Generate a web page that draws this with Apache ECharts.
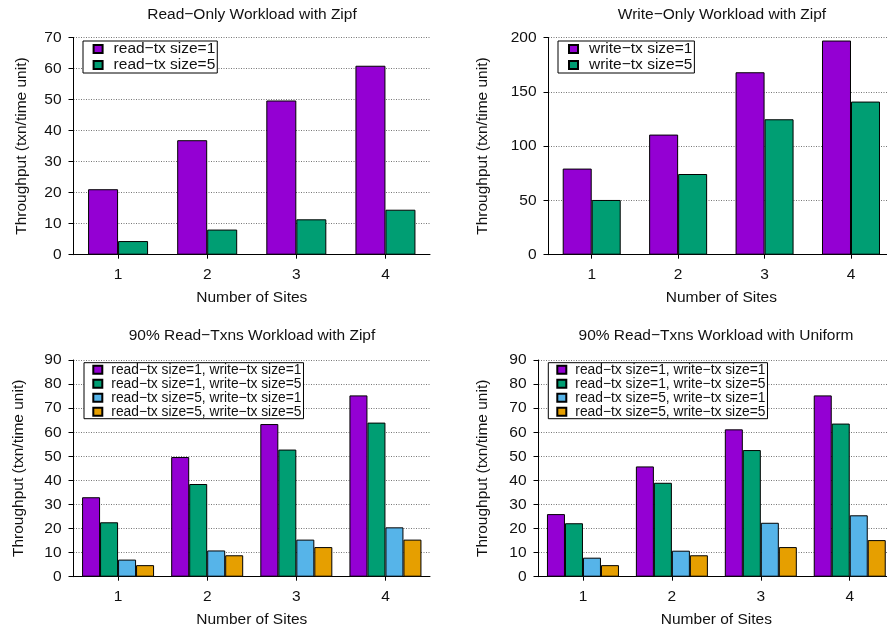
<!DOCTYPE html>
<html>
<head>
<meta charset="utf-8">
<script src="https://cdn.jsdelivr.net/npm/echarts@6/dist/echarts.min.js"></script>
<style>html,body{margin:0;padding:0;background:#fff}#c{width:887px;height:633px}</style>
</head>
<body>
<div id="c"></div>
<script>
// ---- data ----
const categories = ['1', '2', '3', '4'];
const titles = ['Read\u2212Only Workload with Zipf', 'Write\u2212Only Workload with Zipf', '90% Read\u2212Txns Workload with Zipf', '90% Read\u2212Txns Workload with Uniform'];
const xName = 'Number of Sites';
const yName = 'Throughput (txn/time unit)';

const p1Names = ['read\u2212tx size=1', 'read\u2212tx size=5'];
const p1Read1 = [21.1, 36.9, 49.7, 60.9];
const p1Read5 = [4.4, 8.1, 11.4, 14.5];

const p2Names = ['write\u2212tx size=1', 'write\u2212tx size=5'];
const p2Write1 = [79.3, 110.6, 168, 197.2];
const p2Write5 = [50.4, 74.3, 124.7, 141];

const mixNames = ['read\u2212tx size=1, write\u2212tx size=1', 'read\u2212tx size=1, write\u2212tx size=5', 'read\u2212tx size=5, write\u2212tx size=1', 'read\u2212tx size=5, write\u2212tx size=5'];
const p3R1W1 = [33.0, 49.7, 63.4, 75.3];
const p3R1W5 = [22.6, 38.5, 52.8, 64.0];
const p3R5W1 = [7.1, 10.9, 15.4, 20.5];
const p3R5W5 = [4.8, 8.9, 12.3, 15.4];

const p4R1W1 = [26.0, 45.8, 61.2, 75.3];
const p4R1W5 = [22.2, 39.0, 52.6, 63.6];
const p4R5W1 = [7.9, 10.8, 22.4, 25.5];
const p4R5W5 = [4.8, 8.9, 12.3, 15.2];

const yMax = [70, 200, 90, 90];
const yStep = [10, 50, 10, 10];

// ---- style ----
const FONT = "'Liberation Sans', Arial, Helvetica, sans-serif";
const FS = 15.5;
const TXT = '#111';
const colors = ['#9400d3', '#009e73', '#56b4e9', '#e69f00'];

const grids = [
  {left: 73.5, width: 356.5, top: 37.5, height: 217.2, outerBoundsMode: 'none'},
  {left: 548.5, width: 345.7, top: 37.5, height: 217.2, outerBoundsMode: 'none'},
  {left: 73.5, width: 356.5, top: 360, height: 216.7, outerBoundsMode: 'none'},
  {left: 538.5, width: 355.7, top: 360, height: 216.7, outerBoundsMode: 'none'}
];
const yNameGaps = [44, 58, 47, 48];
const titlePos = [{x: 252, y: 7}, {x: 722, y: 7}, {x: 252, y: 328}, {x: 716, y: 328}];
const barW = [30, 29, 18, 18];

function xAxis(i) {
  return {
    type: 'category', gridIndex: i, data: categories, boundaryGap: true,
    name: xName, nameLocation: 'middle', nameGap: 35.5,
    nameTextStyle: {fontFamily: FONT, fontSize: FS, color: TXT, lineHeight: 16},
    axisLine: {show: true, lineStyle: {color: '#000', width: 1}},
    axisTick: {show: true, alignWithLabel: true, length: 4, lineStyle: {color: '#000'}},
    axisLabel: {fontFamily: FONT, fontSize: FS, color: TXT, margin: 12, lineHeight: 16},
    splitLine: {show: false}
  };
}
function yAxis(i) {
  return {
    type: 'value', gridIndex: i, min: 0, max: yMax[i], interval: yStep[i],
    name: yName, nameLocation: 'middle', nameGap: yNameGaps[i],
    nameTextStyle: {fontFamily: FONT, fontSize: FS, color: TXT, lineHeight: 16},
    axisLine: {show: true, lineStyle: {color: '#000', width: 1}},
    axisTick: {show: true, length: 5, lineStyle: {color: '#000'}},
    axisLabel: {fontFamily: FONT, fontSize: FS, color: TXT, margin: 12},
    splitLine: {show: true, lineStyle: {color: '#777', width: 1, type: [1, 1.5]}}
  };
}
function bar(name, data, i, c) {
  return {
    type: 'bar', name: name, data: data, xAxisIndex: i, yAxisIndex: i,
    barWidth: barW[i], barGap: '0%', barCategoryGap: '0%',
    itemStyle: {color: colors[c], borderColor: '#000', borderWidth: 1},
    emphasis: {disabled: true}, animation: false
  };
}
function legend(names, left, top, fs, lh, padLeft, gapText) {
  return {
    data: names, orient: 'vertical', left: left, top: top,
    itemWidth: 9, itemHeight: 8, itemGap: 0,
    padding: [0, 2, 0, padLeft],
    backgroundColor: '#fff', borderColor: '#000', borderWidth: 1,
    icon: 'rect', selectedMode: false,
    textStyle: {fontFamily: FONT, fontSize: fs, color: TXT, lineHeight: lh, padding: [0, 0, 0, gapText]}
  };
}

const option = {
  backgroundColor: '#fff',
  animation: false,
  title: titles.map((t, i) => ({
    text: t, left: titlePos[i].x, top: titlePos[i].y, textAlign: 'center', padding: 0,
    textStyle: {fontFamily: FONT, fontSize: FS, fontWeight: 'normal', color: TXT, lineHeight: 16}
  })),
  grid: grids,
  xAxis: [0, 1, 2, 3].map(xAxis),
  yAxis: [0, 1, 2, 3].map(yAxis),
  legend: [
    legend(p1Names, 83, 41, FS, 16, 9.6, 6),
    legend(p2Names, 558, 41, FS, 16, 10, 6),
    legend(mixNames, 84, 362.7, 13.8, 14, 8.3, 4),
    legend(mixNames, 548.3, 362.7, 13.8, 14, 8, 4)
  ],
  series: [
    bar(p1Names[0], p1Read1, 0, 0), bar(p1Names[1], p1Read5, 0, 1),
    bar(p2Names[0], p2Write1, 1, 0), bar(p2Names[1], p2Write5, 1, 1),
    bar(mixNames[0], p3R1W1, 2, 0), bar(mixNames[1], p3R1W5, 2, 1), bar(mixNames[2], p3R5W1, 2, 2), bar(mixNames[3], p3R5W5, 2, 3),
    bar(mixNames[0], p4R1W1, 3, 0), bar(mixNames[1], p4R1W5, 3, 1), bar(mixNames[2], p4R5W1, 3, 2), bar(mixNames[3], p4R5W5, 3, 3)
  ]
};
const chart = echarts.init(document.getElementById('c'), null, {renderer: 'canvas'});
chart.setOption(option);
</script>
</body>
</html>
